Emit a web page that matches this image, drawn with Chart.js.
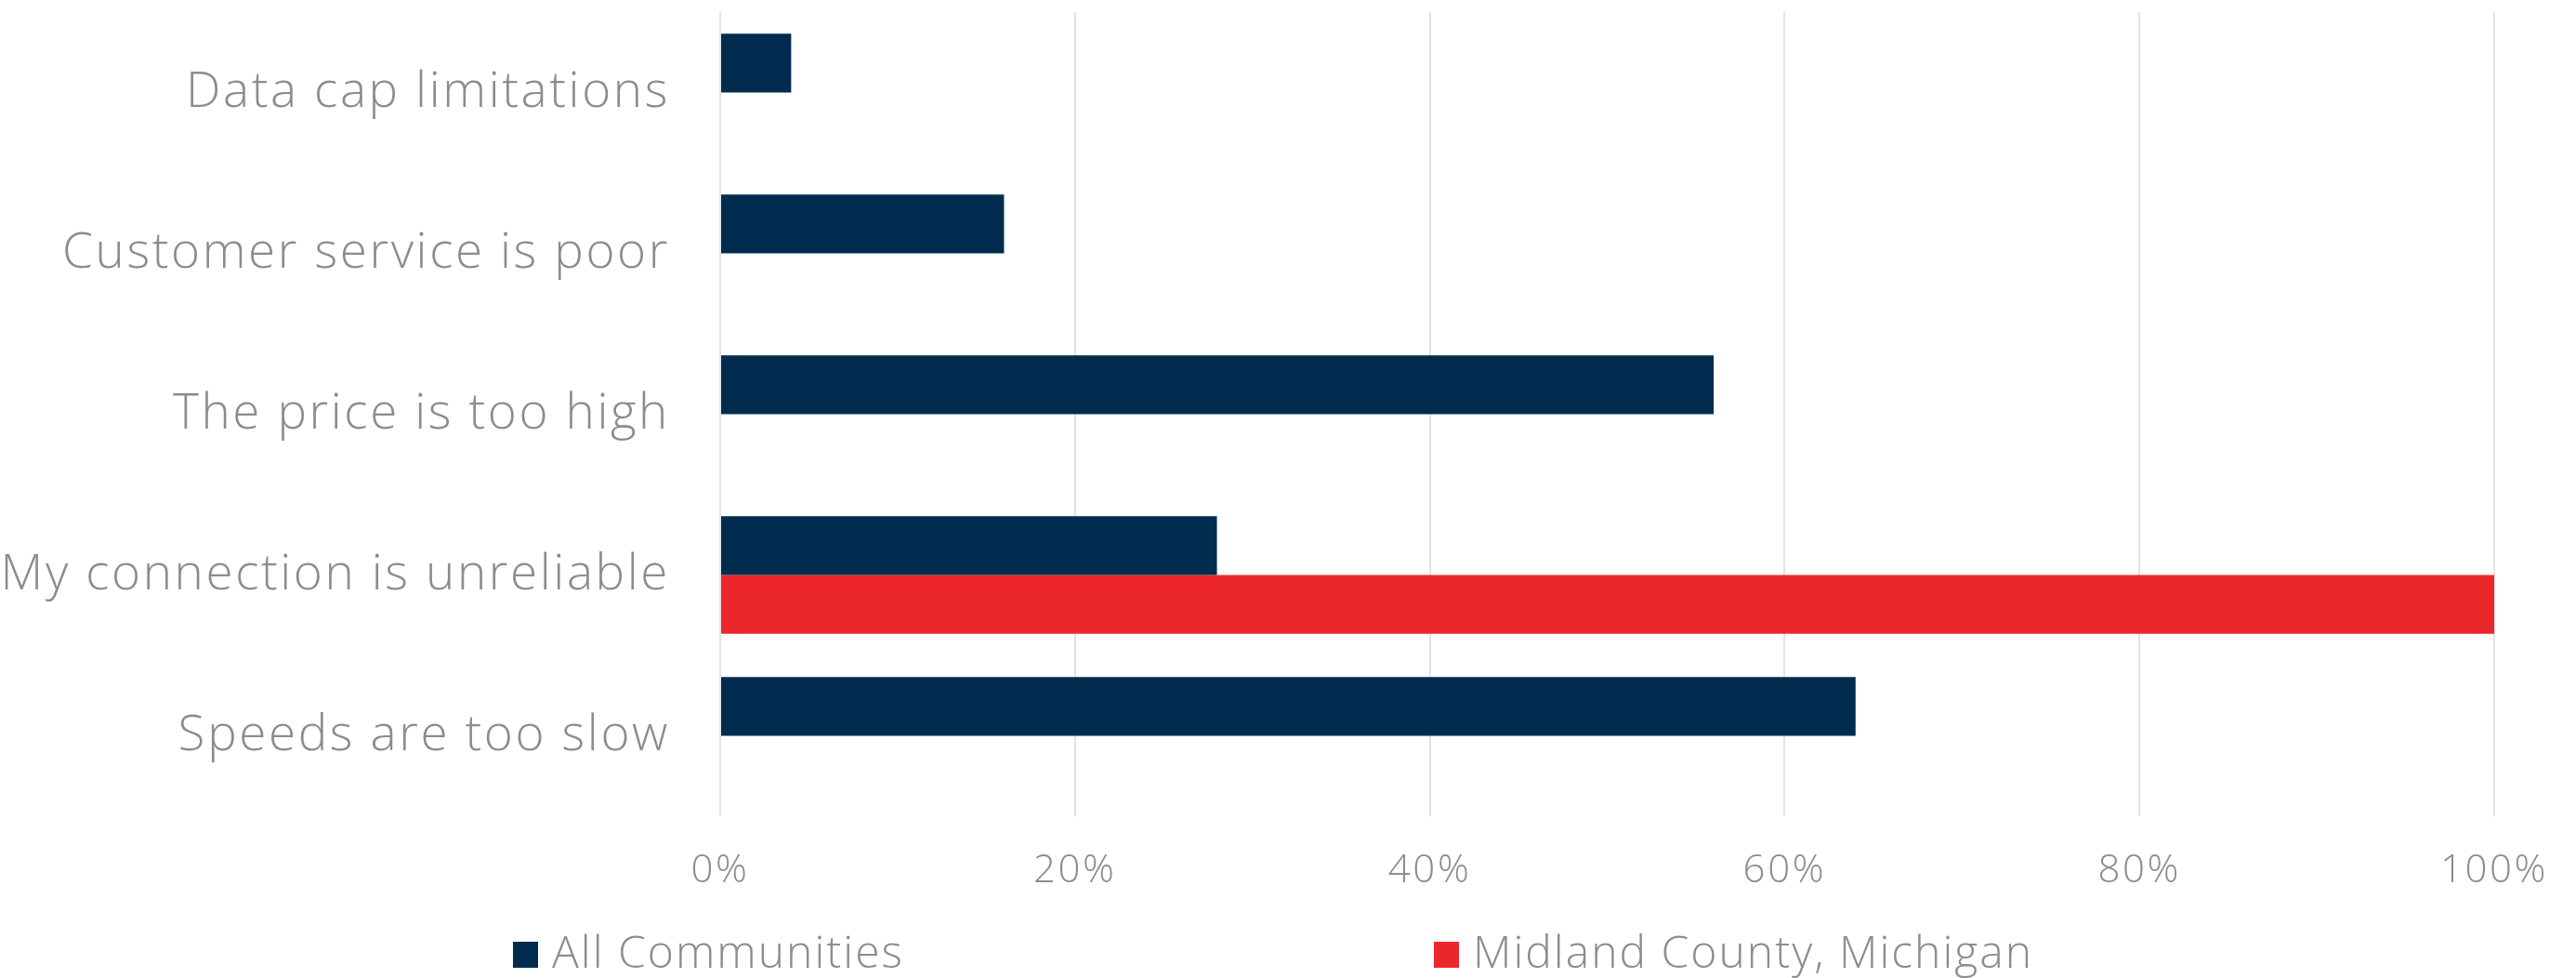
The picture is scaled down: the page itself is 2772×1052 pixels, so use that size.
<!DOCTYPE html>
<html>
<head>
<meta charset="utf-8">
<script src="https://cdn.jsdelivr.net/npm/chart.js@4.4.1/dist/chart.umd.min.js"></script>
<style>
  html, body { margin: 0; padding: 0; background: #fff; }
  #wrap { width: 2772px; height: 1052px; position: relative; }
</style>
</head>
<body>
<div id="wrap"><canvas id="myChart"></canvas></div>
<script>
const categories = [
  "Data cap limitations",
  "Customer service is poor",
  "The price is too high",
  "My connection is unreliable",
  "Speeds are too slow",
];
const allCommunities = [4, 16, 56, 28, 64];
const midlandCounty = [0, 0, 0, 100, 0];
const seriesNames = ["All Communities", "Midland County, Michigan"];
const tickValues = [0, 20, 40, 60, 80, 100];

const navy = "#012c50";
const red = "#ec272c";
const textGrey = "#8c8c8c";
const fontFamily = "'Open Sans', Lato, sans-serif";

// the original font is wider, so space the letters out a bit
const wideText = {
  id: "wideText",
  beforeDraw(chart) {
    chart.ctx.letterSpacing = "2.6px";
  },
};

// legend drawn by hand so the two items can sit far apart like the original
const spreadLegend = {
  id: "spreadLegend",
  afterDraw(chart) {
    const ctx = chart.ctx;
    const xs = [552, 1543];
    const y = 1027;
    ctx.save();
    ctx.letterSpacing = "2px";
    ctx.font = "300 48px " + fontFamily;
    ctx.textBaseline = "middle";
    chart.data.datasets.forEach((ds, i) => {
      ctx.fillStyle = ds.backgroundColor;
      ctx.fillRect(xs[i], y - 14, 27, 28);
      ctx.fillStyle = textGrey;
      ctx.fillText(ds.label, xs[i] + 42, y);
    });
    ctx.restore();
  },
};

async function main() {
  const ctx = document.getElementById("myChart").getContext("2d");

  const chartOptions = {
    type: "bar",
    data: {
      labels: categories,
      datasets: [
        {
          label: seriesNames[0],
          backgroundColor: navy,
          data: allCommunities,
        },
        {
          label: seriesNames[1],
          backgroundColor: red,
          data: midlandCounty,
        },
      ],
    },
    options: {
      indexAxis: "y",
      responsive: true,
      maintainAspectRatio: false,
      animation: false,
      datasets: {
        bar: { categoryPercentage: 0.73, barPercentage: 1.0 },
      },
      layout: { padding: { top: 13, right: 88, left: 0, bottom: 0 } },
      plugins: {
        legend: { display: false },
        tooltip: { enabled: false },
      },
      scales: {
        x: {
          min: 0,
          max: 100,
          afterBuildTicks: (axis) => {
            axis.ticks = tickValues.map((v) => ({ value: v }));
          },
          afterFit: (axis) => {
            axis.height = 174;
          },
          grid: { color: "#e3e3e3", lineWidth: 2, drawTicks: false },
          border: { display: false },
          ticks: {
            padding: 34,
            color: textGrey,
            font: { family: fontFamily, size: 42, weight: "300" },
            callback: (v) => v + "%",
          },
        },
        y: {
          afterFit: (axis) => {
            axis.width = 775;
            axis.paddingTop = 0;
            axis.paddingBottom = 0;
          },
          // invisible tick marks give the gap between labels and bars
          grid: { color: "rgba(0,0,0,0)", drawTicks: true, tickLength: 54 },
          border: { display: false },
          ticks: {
            padding: 0,
            color: textGrey,
            font: { family: fontFamily, size: 53, weight: "300" },
          },
        },
      },
    },
    plugins: [wideText, spreadLegend],
  };

  new Chart(ctx, chartOptions);
}
main();
</script>
</body>
</html>
